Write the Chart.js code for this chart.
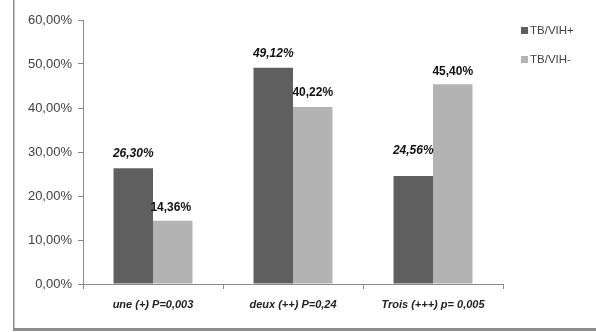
<!DOCTYPE html>
<html>
<head>
<meta charset="utf-8">
<script src="https://cdn.jsdelivr.net/npm/chart.js@4/dist/chart.umd.min.js"></script>
<style>
	html, body { margin: 0; padding: 0; background: #fff; }
	#wrap { position: relative; width: 596px; height: 332px; }
</style>
</head>
<body>
<div id="wrap"><canvas id="chart"></canvas></div>
<script>
const categories = ['une (+) P=0,003', 'deux (++) P=0,24', 'Trois (+++) p= 0,005'];
const seriesNames = ['TB/VIH+', 'TB/VIH-'];
const vihPos = [26.30, 49.12, 24.56];
const vihNeg = [14.36, 40.22, 45.40];
const yTicks = [0, 10, 20, 30, 40, 50, 60];

const fmtPct = v => v.toFixed(2).replace('.', ',') + '%';
const axisGrey = '#8a8a8a';
const FONT = '"Liberation Sans", Arial, sans-serif';

// frame of the figure (left + bottom edge), value labels and legend
const decor = {
	id: 'decor',
	afterDraw(chart) {
		const ctx = chart.ctx;
		ctx.save();
		ctx.fillStyle = '#8c8c8c';
		ctx.fillRect(13, 0, 1.5, 331);
		ctx.fillRect(13, 328, 583, 3);

		// value labels
		const lift = [[15, 14, 25], [13, 14, 13]];
		chart.data.datasets.forEach((ds, di) => {
			const meta = chart.getDatasetMeta(di);
			meta.data.forEach((bar, i) => {
				ctx.font = (di === 0 ? 'italic bold ' : 'bold ') + '12px ' + FONT;
				ctx.fillStyle = '#111';
				ctx.textAlign = 'center';
				ctx.textBaseline = 'middle';
				ctx.fillText(fmtPct(ds.data[i]), bar.x - (di === 1 && i === 0 ? 2 : 0), bar.y - lift[di][i]);
			});
		});

		// legend
		const ly = [31, 60];
		chart.data.datasets.forEach((ds, di) => {
			ctx.fillStyle = ds.backgroundColor;
			ctx.fillRect(521, ly[di] - 4, 7, 7);
			ctx.font = '11.5px ' + FONT;
			ctx.fillStyle = '#404040';
			ctx.textAlign = 'left';
			ctx.textBaseline = 'middle';
			ctx.fillText(ds.label, 530, ly[di]);
		});
		ctx.restore();
	}
};

new Chart(document.getElementById('chart'), {
	type: 'bar',
	data: {
		labels: categories,
		datasets: [
			{ label: seriesNames[0], data: vihPos, backgroundColor: '#5f5f5f' },
			{ label: seriesNames[1], data: vihNeg, backgroundColor: '#b3b3b3' }
		]
	},
	options: {
		responsive: true, maintainAspectRatio: false,
		animation: false,
		layout: { padding: { left: 14, right: 93, top: 20, bottom: 0 } },
		plugins: { legend: { display: false }, tooltip: { enabled: false } },
		datasets: { bar: { categoryPercentage: 0.564, barPercentage: 1.0 } },
		scales: {
			x: {
				grid: { display: true, offset: true, drawOnChartArea: false, drawTicks: true, tickLength: 5, color: axisGrey },
				border: { display: true, color: axisGrey },
				ticks: { color: '#222', padding: 9, font: { family: FONT, size: 11, style: 'italic', weight: 'bold' }, maxRotation: 0 },
				afterFit: s => { s.height = 48; }
			},
			y: {
				min: 0, max: 60,
				afterBuildTicks: s => { s.ticks = yTicks.map(v => ({ value: v })); },
				grid: { display: true, drawOnChartArea: false, drawTicks: true, tickLength: 5, color: axisGrey },
				border: { display: true, color: axisGrey },
				ticks: { color: '#404040', padding: 6, font: { family: FONT, size: 13 }, callback: v => fmtPct(v) },
				afterFit: s => { s.width = 69; }
			}
		}
	},
	plugins: [decor]
});
</script>
</body>
</html>
